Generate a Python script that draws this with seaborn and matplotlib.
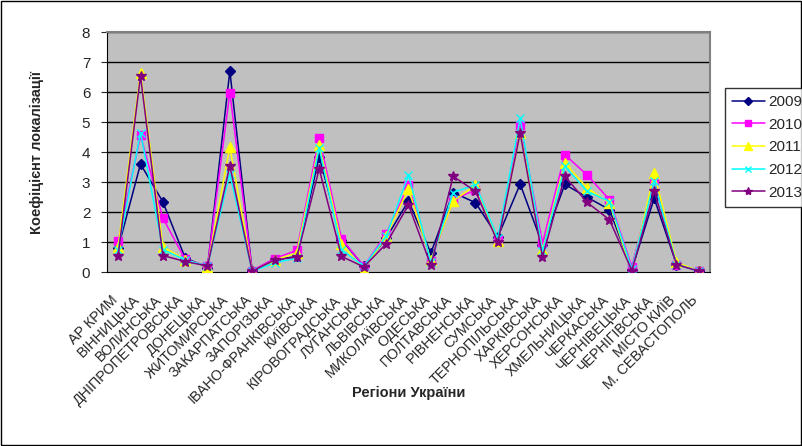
import pandas as pd
import matplotlib.pyplot as plt
import matplotlib.transforms as mtransforms
import seaborn as sns
from matplotlib.patches import Rectangle

# Regions (x axis categories)
regions = ['АР КРИМ', 'ВІННИЦЬКА', 'ВОЛИНСЬКА', 'ДНІПРОПЕТРОВСЬКА', 'ДОНЕЦЬКА',
           'ЖИТОМИРСЬКА', 'ЗАКАРПАТСЬКА', 'ЗАПОРІЗЬКА', 'ІВАНО-ФРАНКІВСЬКА',
           'КИЇВСЬКА', 'КІРОВОГРАДСЬКА', 'ЛУГАНСЬКА', 'ЛЬВІВСЬКА', 'МИКОЛАЇВСЬКА',
           'ОДЕСЬКА', 'ПОЛТАВСЬКА', 'РІВНЕНСЬКА', 'СУМСЬКА', 'ТЕРНОПІЛЬСЬКА',
           'ХАРКІВСЬКА', 'ХЕРСОНСЬКА', 'ХМЕЛЬНИЦЬКА', 'ЧЕРКАСЬКА', 'ЧЕРНІВЕЦЬКА',
           'ЧЕРНІГІВСЬКА', 'МІСТО КИЇВ', 'М. СЕВАСТОПОЛЬ']

# Localisation coefficient by year
y2009 = [0.80, 3.60, 2.34, 0.47, 0.15, 6.70, 0.03, 0.40, 0.52, 3.85, 1.08, 0.19, 1.13, 2.37,
         0.63, 2.65, 2.31, 1.17, 2.93, 0.91, 2.92, 2.49, 2.08, 0.08, 2.46, 0.25, 0.03]
y2010 = [1.03, 4.56, 1.80, 0.42, 0.20, 5.98, 0.05, 0.45, 0.72, 4.48, 1.11, 0.19, 1.27, 2.89,
         0.36, 2.41, 2.74, 1.08, 4.91, 0.97, 3.91, 3.23, 2.41, 0.17, 3.07, 0.24, 0.04]
y2011 = [0.85, 6.65, 0.85, 0.40, 0.18, 4.16, 0.02, 0.40, 0.63, 4.24, 0.94, 0.08, 1.20, 2.77,
         0.40, 2.37, 2.89, 1.02, 4.65, 0.74, 3.63, 2.80, 2.30, 0.00, 3.30, 0.32, 0.03]
y2012 = [0.75, 4.65, 0.75, 0.40, 0.20, 3.27, 0.02, 0.30, 0.47, 4.13, 0.74, 0.19, 1.19, 3.24,
         0.32, 2.65, 2.91, 1.13, 5.13, 0.69, 3.52, 2.69, 2.35, 0.10, 3.02, 0.25, 0.03]
y2013 = [0.55, 6.54, 0.55, 0.35, 0.20, 3.54, 0.03, 0.40, 0.50, 3.44, 0.52, 0.17, 0.94, 2.24,
         0.22, 3.19, 2.69, 0.99, 4.63, 0.50, 3.19, 2.32, 1.74, 0.05, 2.69, 0.25, 0.03]
years = ['2009', '2010', '2011', '2012', '2013']
series = [y2009, y2010, y2011, y2012, y2013]

sns.set_style('white')
plt.rcParams['font.family'] = ['Liberation Sans', 'DejaVu Sans']

fig = plt.figure(figsize=(8.02, 4.46), dpi=100)
ax = fig.add_axes([107 / 802, 1 - 272 / 446, 603 / 802, 240 / 446])
ax.set_facecolor('#C0C0C0')

palette = {'2009': '#000080', '2010': '#FF00FF', '2011': '#FFFF00',
           '2012': '#00FFFF', '2013': '#800080'}
markers = {'2009': 'D', '2010': 's', '2011': '^', '2012': 'x', '2013': '*'}
msize = {'2009': 5, '2010': 6, '2011': 6.5, '2012': 6, '2013': 7}

for year, vals in zip(years, series):
    d = pd.DataFrame({'pos': range(len(regions)), 'value': vals})
    sns.lineplot(data=d, x='pos', y='value', color=palette[year], marker=markers[year],
                 markersize=msize[year], markeredgewidth=1.0, markeredgecolor=palette[year],
                 linewidth=1.1, ax=ax, zorder=3)

# horizontal grid
ax.set_ylim(0, 8)
ax.set_xlim(-0.5, len(regions) - 0.5)
ax.set_yticks(range(0, 9))
for g in range(1, 9):
    ax.axhline(g, color='black', lw=1, zorder=0.5)

ax.set_xticks(range(len(regions)))
ax.set_xticklabels(regions, rotation=45, ha='right', va='top', rotation_mode='anchor',
                   fontsize=10.3)
ax.set_xticks([i - 0.5 for i in range(len(regions) + 1)], minor=True)
ax.tick_params(axis='x', which='major', length=0, pad=15)
ax.tick_params(axis='x', which='minor', length=4, direction='out', width=1, color='black')
ax.tick_params(axis='y', length=4, direction='out', labelsize=11, left=True, pad=8)

# nudge category labels left (after tick_params, which resets transforms)
shift = mtransforms.ScaledTranslation(-8 / 100, 0, fig.dpi_scale_trans)
for lab in ax.xaxis.get_majorticklabels():
    lab.set_transform(lab.get_transform() + shift)

for s in ['left', 'bottom']:
    ax.spines[s].set_color('black')
for s in ['top', 'right']:
    ax.spines[s].set_color('#808080')
    ax.spines[s].set_linewidth(1.5)

ax.set_xlabel('Регіони України', fontsize=10.5, fontweight='bold')
ax.set_ylabel('Коефіцієнт локалізації', fontsize=10.5, fontweight='bold')
ax.xaxis.set_label_coords(0.5, -0.475)
ax.yaxis.set_label_coords(-0.105, 0.5)

handles = [plt.Line2D([], [], color=palette[y], marker=markers[y], markersize=msize[y] - 1,
                      markeredgewidth=1.0, lw=1.1) for y in years]
leg = fig.legend(handles, years, loc='upper left', bbox_to_anchor=(725 / 802, 1 - 88 / 446),
                 fontsize=11, frameon=True, fancybox=False, edgecolor='black',
                 handlelength=2.15, handletextpad=0.2, labelspacing=0.57,
                 borderpad=0.45, borderaxespad=0)
leg.get_frame().set_linewidth(1)

fig.patches.append(Rectangle((0.001, 0.002), 0.998, 0.996, transform=fig.transFigure,
                             fill=False, edgecolor='black', lw=1))

fig.savefig('out.png', dpi=100)
